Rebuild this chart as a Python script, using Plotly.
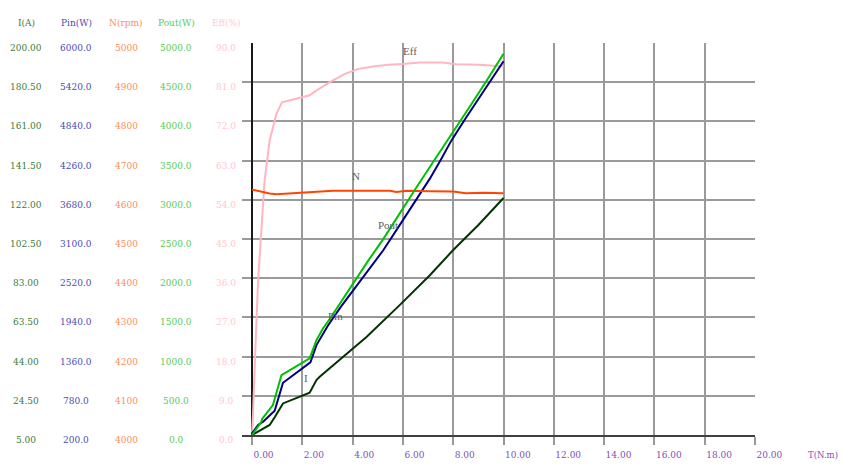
import plotly.graph_objects as go

# ---------------- data ----------------
torque_eff = [0.0, 0.04, 0.12, 0.24, 0.37, 0.5, 0.7, 0.97, 1.19, 1.7, 2.29, 2.56, 3.09, 3.69, 4.2, 4.8, 5.4, 6.0, 6.67, 7.58, 8.13, 9.05, 10.0]
eff_vals = [0.5, 5.0, 18.0, 35.5, 47.0, 58.5, 67.6, 73.8, 76.4, 77.2, 78.0, 79.1, 81.0, 82.9, 84.0, 84.6, 85.0, 85.2, 85.5, 85.5, 85.1, 85.0, 84.6]

torque_n = [0.0, 0.2, 0.44, 0.7, 0.97, 1.5, 2.29, 3.22, 4.0, 5.48, 5.74, 6.14, 7.07, 8.0, 8.5, 9.2, 10.0]
n_vals = [4626, 4623, 4620, 4616, 4614, 4616, 4620, 4623, 4623, 4623, 4620, 4623, 4622, 4621, 4617, 4618, 4617]

torque_pout = [0.0, 0.17, 0.37, 0.40, 0.83, 1.17, 2.29, 2.56, 2.82, 3.09, 3.5, 4.02, 4.6, 5.21, 6.0, 6.54, 7.07, 7.6, 8.13, 8.7, 9.3, 10.0]
pout_vals = [0, 85, 169, 204, 382, 764, 977, 1210, 1359, 1480, 1680, 1935, 2215, 2495, 2900, 3160, 3418, 3670, 3930, 4210, 4505, 4862]

torque_pin = [0.0, 0.24, 0.44, 0.9, 1.23, 2.32, 2.56, 3.02, 3.5, 4.02, 4.6, 5.21, 6.0, 6.54, 7.07, 7.5, 7.93, 8.5, 9.2, 10.0]
pin_vals = [225, 348, 397, 559, 973, 1274, 1530, 1820, 2080, 2340, 2640, 2930, 3380, 3690, 3993, 4270, 4559, 4890, 5290, 5731]

torque_i = [0.0, 0.44, 0.7, 0.9, 1.23, 2.29, 2.56, 2.69, 3.16, 3.49, 4.55, 5.87, 7.07, 7.99, 9.0, 10.0]
i_vals = [5.0, 8.3, 10.0, 13.8, 20.7, 26.0, 32.3, 34.0, 38.9, 42.3, 53.8, 69.6, 84.5, 96.9, 109.5, 122.9]

x_ticks = [0, 2, 4, 6, 8, 10, 12, 14, 16, 18, 20]
x_tick_labels = ["0.00", "2.00", "4.00", "6.00", "8.00", "10.00", "12.00", "14.00", "16.00", "18.00", "20.00"]

i_ticks = [5.0, 24.5, 44.0, 63.5, 83.0, 102.5, 122.0, 141.5, 161.0, 180.5, 200.0]
i_tick_labels = ["5.00", "24.50", "44.00", "63.50", "83.00", "102.50", "122.00", "141.50", "161.00", "180.50", "200.00"]
pin_ticks = [200, 780, 1360, 1940, 2520, 3100, 3680, 4260, 4840, 5420, 6000]
pin_tick_labels = ["200.0", "780.0", "1360.0", "1940.0", "2520.0", "3100.0", "3680.0", "4260.0", "4840.0", "5420.0", "6000.0"]
n_ticks = [4000, 4100, 4200, 4300, 4400, 4500, 4600, 4700, 4800, 4900, 5000]
n_tick_labels = ["4000", "4100", "4200", "4300", "4400", "4500", "4600", "4700", "4800", "4900", "5000"]
pout_ticks = [0, 500, 1000, 1500, 2000, 2500, 3000, 3500, 4000, 4500, 5000]
pout_tick_labels = ["0.0", "500.0", "1000.0", "1500.0", "2000.0", "2500.0", "3000.0", "3500.0", "4000.0", "4500.0", "5000.0"]
eff_ticks = [0, 9, 18, 27, 36, 45, 54, 63, 72, 81, 90]
eff_tick_labels = ["0.0", "9.0", "18.0", "27.0", "36.0", "45.0", "54.0", "63.0", "72.0", "81.0", "90.0"]

headers = ["I(A)", "Pin(W)", "N(rpm)", "Pout(W)", "Eff(%)"]

# ---------------- layout geometry (page pixels; page body has an 8px margin on every side) ----------------
OFF = 8
W_FIG, H_FIG = 850 - 2 * OFF, 468 - 2 * OFF
L, R, T, B = 242 - OFF, 755 - OFF, 43 - OFF, 435 - OFF
PW, PH = R - L, B - T


def px(xp):
    return (xp - OFF - L) / PW


def py(yp):
    return (B - (yp - OFF)) / PH


FONT = "DejaVu Serif"
FS = 9

col_i, col_pin, col_n, col_pout, col_eff = "#003300", "#000080", "#ff4500", "#00c000", "#ffb6c1"
txt_i, txt_pin, txt_n, txt_pout, txt_eff = "#3a7d3a", "#4b4bb5", "#ff8c5a", "#55cc55", "#ffc8d0"

fig = go.Figure()
fig.add_trace(go.Scatter(x=torque_eff, y=eff_vals, mode="lines", line=dict(color=col_eff, width=2), yaxis="y", name="Eff"))
fig.add_trace(go.Scatter(x=torque_n, y=n_vals, mode="lines", line=dict(color=col_n, width=2), yaxis="y4", name="N"))
fig.add_trace(go.Scatter(x=torque_i, y=i_vals, mode="lines", line=dict(color=col_i, width=2), yaxis="y2", name="I"))
fig.add_trace(go.Scatter(x=torque_pin, y=pin_vals, mode="lines", line=dict(color=col_pin, width=2), yaxis="y3", name="Pin"))
fig.add_trace(go.Scatter(x=torque_pout, y=pout_vals, mode="lines", line=dict(color=col_pout, width=2), yaxis="y5", name="Pout"))

hidden = dict(visible=False, overlaying="y", showgrid=False, zeroline=False, fixedrange=True, automargin=False)

fig.update_layout(
    width=W_FIG, height=H_FIG, autosize=False,
    margin=dict(l=L, r=W_FIG - R, t=T, b=H_FIG - B, pad=0, autoexpand=False),
    paper_bgcolor="white", plot_bgcolor="white",
    showlegend=False,
    xaxis=dict(
        range=[-0.4, 20], tickvals=x_ticks, ticktext=x_tick_labels, automargin=False,
        ticklabelposition="outside right", ticklabelstandoff=10,
        ticks="outside", ticklen=8, tickcolor="#999999", tickwidth=1.5,
        showgrid=True, gridcolor="#9a9a9a", gridwidth=1.5,
        zeroline=True, zerolinecolor="#1a1a1a", zerolinewidth=1.5,
        showline=True, linecolor="#404040", linewidth=1.5,
        tickfont=dict(family=FONT, size=FS, color="#8050b8"),
    ),
    yaxis=dict(
        range=[0, 90], tickvals=eff_ticks, showticklabels=False, automargin=False,
        showgrid=True, gridcolor="#9a9a9a", gridwidth=1.5,
        zeroline=False, showline=False, ticks="",
    ),
    yaxis2=dict(range=[5, 200], **hidden),
    yaxis3=dict(range=[200, 6000], **hidden),
    yaxis4=dict(range=[4000, 5000], **hidden),
    yaxis5=dict(range=[0, 5000], **hidden),
)

annotations = []
cols = [
    (26, "y2", i_ticks, i_tick_labels, txt_i),
    (76, "y3", pin_ticks, pin_tick_labels, txt_pin),
    (126, "y4", n_ticks, n_tick_labels, txt_n),
    (176, "y5", pout_ticks, pout_tick_labels, txt_pout),
    (226, "y", eff_ticks, eff_tick_labels, txt_eff),
]
for (cx, yref, vals, labels, color), head in zip(cols, headers):
    annotations.append(dict(x=px(cx), y=py(23), xref="paper", yref="paper", text=head, showarrow=False,
                            xanchor="center", yanchor="middle", font=dict(family=FONT, size=FS, color=color)))
    for v, lab in zip(vals, labels):
        annotations.append(dict(x=px(cx), y=v, xref="paper", yref=yref, text=lab, showarrow=False,
                                xanchor="center", yanchor="middle", yshift=-5,
                                font=dict(family=FONT, size=FS, color=color)))

annotations.append(dict(x=px(840), y=py(455), xref="paper", yref="paper", text="T(N.m)", showarrow=False,
                        xanchor="right", yanchor="middle", font=dict(family=FONT, size=8.5, color="#8050b8")))

series_labels = [("Eff", 410, 51), ("N", 356, 176), ("Pout", 388, 225), ("Pin", 335, 316), ("I", 306, 378)]
for txt, xp, yp in series_labels:
    annotations.append(dict(x=px(xp), y=py(yp), xref="paper", yref="paper", text=txt, showarrow=False,
                            xanchor="center", yanchor="middle", font=dict(family="Liberation Serif", size=11, color="#606060")))

fig.update_layout(annotations=annotations)
fig.write_html("out.html")
